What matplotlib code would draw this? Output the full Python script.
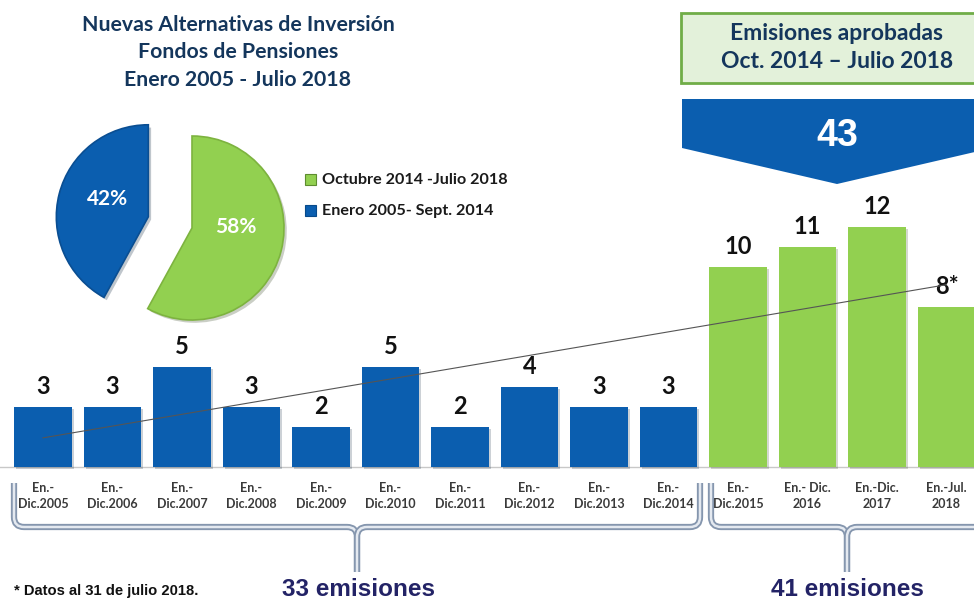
import matplotlib
matplotlib.use("Agg")
import matplotlib.pyplot as plt
import numpy as np
from matplotlib.path import Path
from matplotlib.patches import PathPatch, Polygon, Rectangle
import matplotlib.patheffects as pe

# data
periods = ["En.-\nDic.2005", "En.-\nDic.2006", "En.-\nDic.2007", "En.-\nDic.2008",
           "En.-\nDic.2009", "En.-\nDic.2010", "En.-\nDic.2011", "En.-\nDic.2012",
           "En.-\nDic.2013", "En.-\nDic.2014", "En.-\nDic.2015", "En.- Dic.\n2016",
           "En.-Dic.\n2017", "En.-Jul.\n2018"]
emissions = [3, 3, 5, 3, 2, 5, 2, 4, 3, 3, 10, 11, 12, 8]
value_labels = ["3", "3", "5", "3", "2", "5", "2", "4", "3", "3", "10", "11", "12", "8*"]
n_old = 10  # periods up to 2014

pie_shares = [58, 42]
pie_labels = ["Octubre 2014 -Julio 2018", "Enero 2005- Sept. 2014"]
approved_total = 43  # Oct. 2014 - Julio 2018

BLUE = "#0B5EAF"
GREEN = "#92D050"
NAVY = "#14365C"
INDIGO = "#232366"
CAL = "Lato"
ARIAL = "Liberation Sans"

fig = plt.figure(figsize=(9.74, 6.0), dpi=100)

# bar chart axes, spans the whole figure (20 px per unit, 69.5 px per bar)
ax = fig.add_axes([0, 0, 1, 1])
ax.set_xlim(-43 / 69.5, (974 - 43) / 69.5)
ax.set_ylim(-133 / 20, 467 / 20)
ax.axis("off")

x = np.arange(len(emissions))
colors = [BLUE] * n_old + [GREEN] * (len(emissions) - n_old)
bars = ax.bar(x, emissions, width=0.83, color=colors, zorder=2)
for b in bars:
    b.set_path_effects([pe.SimplePatchShadow(offset=(1.5, -1.5), alpha=0.2), pe.Normal()])
ax.axhline(0, color="#C8C8C8", lw=1, zorder=1)

for xi, v, lab in zip(x, emissions, value_labels):
    ax.text(xi, v + 0.65, lab, ha="center", va="baseline", fontsize=17,
            fontweight="bold", family=CAL, color="#111111")

for xi, lab in zip(x, periods):
    ax.text(xi, -0.75, lab, ha="center", va="top", fontsize=9, fontweight="bold",
            family=CAL, color="#3A3A3A", linespacing=1.4)

# linear trend line
k, c = np.polyfit(x, emissions, 1)
ax.plot(x, k * x + c, color="#555555", lw=0.8, zorder=3)

# overlay in pixel coordinates for decorations
ov = fig.add_axes([0, 0, 1, 1], facecolor="none")
ov.set_xlim(0, 974)
ov.set_ylim(600, 0)
ov.axis("off")

for i, line in enumerate(["Nuevas Alternativas de Inversión", "Fondos de Pensiones",
                          "Enero 2005 - Julio 2018"]):
    ov.text(238, 25 + 27.5 * i, line, ha="center", va="center", fontsize=15.3,
            fontweight="bold", family=CAL, color=NAVY)

# legend
for i, (lab, col) in enumerate(zip(pie_labels, [GREEN, BLUE])):
    ov.add_patch(Rectangle((305, 174 + 31 * i), 11, 11, facecolor=col,
                           edgecolor="#5E8C30" if i == 0 else "#084A8A", lw=0.8))
    ov.text(322, 180 + 31 * i, lab, ha="left", va="center", fontsize=11.6,
            fontweight="bold", family=CAL, color="#1A1A1A")

# top right box and chevron
ov.add_patch(Rectangle((681, 13), 310, 70, facecolor="#E3F1DA", edgecolor="#70AD47", lw=2))
ov.text(837, 33, "Emisiones aprobadas", ha="center", va="center", fontsize=16.5,
        fontweight="bold", family=CAL, color=NAVY)
ov.text(837, 62, "Oct. 2014 – Julio 2018", ha="center", va="center", fontsize=16.5,
        fontweight="bold", family=CAL, color=NAVY)
ov.add_patch(Polygon([(682, 99), (992, 99), (992, 148), (837, 184), (682, 148)],
                     closed=True, facecolor=BLUE, edgecolor="none"))
ov.text(837, 136, str(approved_total), ha="center", va="center", fontsize=27,
        fontweight="bold", family=ARIAL, color="white")


# braces
def brace(xa, xb, xm, y0, y1, y2, r=10):
    for xe in (xa, xb):
        s = 1 if xe < xm else -1
        verts = [(xe, y0), (xe, y1 - r), (xe, y1), (xe + s * r, y1),
                 (xm - s * r, y1), (xm, y1), (xm, y1 + r), (xm, y2)]
        codes = [Path.MOVETO, Path.LINETO, Path.CURVE3, Path.CURVE3,
                 Path.LINETO, Path.CURVE3, Path.CURVE3, Path.LINETO]
        p = Path(verts, codes)
        ov.add_patch(PathPatch(p, fill=False, edgecolor="#8596AE", lw=4.5,
                               capstyle="butt", joinstyle="round"))
        ov.add_patch(PathPatch(p, fill=False, edgecolor="#E4E9F0", lw=1.8,
                               capstyle="butt", joinstyle="round"))


brace(14, 700, 357, 483, 527, 572)
brace(711, 1010, 847, 483, 527, 572)

ov.text(14, 591, "* Datos al 31 de julio 2018.", ha="left", va="center", fontsize=10.6,
        fontweight="bold", family=ARIAL, color="#111111")
ov.text(358, 589, f"{sum(emissions[:n_old])} emisiones", ha="center", va="center",
        fontsize=17.5, fontweight="bold", family=ARIAL, color=INDIGO)
ov.text(847, 589, f"{sum(emissions[n_old:])} emisiones", ha="center", va="center",
        fontsize=17.5, fontweight="bold", family=ARIAL, color=INDIGO)

# pie
R = 92
pax = fig.add_axes([(192 - 150) / 974, (600 - 228 - 150) / 600, 300 / 974, 300 / 600])
wedges, _ = pax.pie(pie_shares, colors=[GREEN, BLUE], startangle=90, counterclock=False,
                    explode=[0, 0.49], radius=1,
                    wedgeprops=dict(linewidth=1.2))
wedges[0].set_edgecolor("#7DB33F")
wedges[1].set_edgecolor("#0A4E92")
for w in wedges:
    w.set_path_effects([pe.SimplePatchShadow(offset=(2, -2), alpha=0.25), pe.Normal()])
pax.set_xlim(-150 / R, 150 / R)
pax.set_ylim(-150 / R, 150 / R)
pax.set_aspect("equal")
pax.axis("off")
pax.text(44 / R, 1 / R, f"{pie_shares[0]}%", ha="center", va="center", fontsize=15,
         fontweight="bold", family=CAL, color="white")
pax.text(-84 / R, 29 / R, f"{pie_shares[1]}%", ha="center", va="center", fontsize=15,
         fontweight="bold", family=CAL, color="white")

fig.savefig("out.png", dpi=100)
